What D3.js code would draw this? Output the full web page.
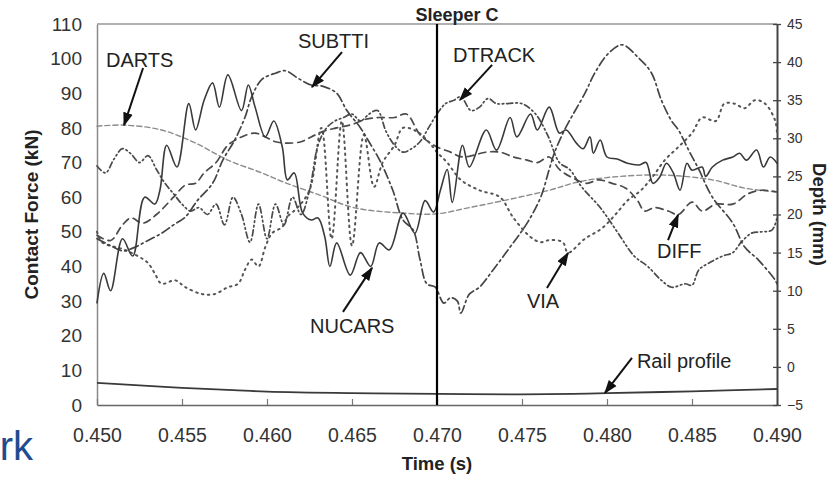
<!DOCTYPE html>
<html><head><meta charset="utf-8">
<script src="https://cdn.jsdelivr.net/npm/d3@7/dist/d3.min.js"></script>
<style>
html,body{margin:0;padding:0;background:#fff;}
svg{display:block;font-family:"Liberation Sans",Arial,sans-serif;}
</style></head>
<body>
<svg id="chart" width="837" height="477"></svg>
<script>
// ---------- data ----------
const timeTicks = [0.450,0.455,0.460,0.465,0.470,0.475,0.480,0.485,0.490];
const forceTicks = [0,10,20,30,40,50,60,70,80,90,100,110];
const depthTicks = [-5,0,5,10,15,20,25,30,35,40,45];
const sleeperTime = 0.470;

const NUCARS = [[0.4500,29.5],[0.4504,38],[0.4508,33],[0.4515,48],[0.4521,43],[0.4528,60],[0.4534,58],[0.4537,62],[0.4541,75],[0.4547,68.7],[0.4554,87],[0.4558,79.4],[0.4563,88],[0.4568,93],[0.4572,86],[0.4577,95.3],[0.4585,85],[0.4589,92.4],[0.4593,86],[0.4599,77.4],[0.4604,82],[0.4609,74.5],[0.4612,65],[0.4616,67],[0.4621,55.4],[0.4626,53.4],[0.4630,54],[0.4634,48.5],[0.4637,40],[0.4641,46.8],[0.4649,37.5],[0.4655,44],[0.4661,40],[0.4666,46.8],[0.4672,44.8],[0.4680,55.4],[0.4687,49.6],[0.4693,59],[0.4698,55.7],[0.4702,62],[0.4706,68],[0.4709,58.5],[0.4715,75],[0.4719,68.7],[0.4729,79.4],[0.4735,73.6],[0.4743,83],[0.4747,77.4],[0.4755,84],[0.4759,79.4],[0.4766,86],[0.4772,78.5],[0.4776,79.4],[0.4782,75.6],[0.4786,74],[0.4790,77.4],[0.4792,72.7],[0.4796,76.5],[0.4800,71.6],[0.4806,71],[0.4812,69.8],[0.4819,69.3],[0.4823,70],[0.4827,64],[0.4831,65.8],[0.4835,69.8],[0.4839,67],[0.4843,62],[0.4847,69.8],[0.4850,67.8],[0.4856,68.7],[0.4858,66],[0.4862,68.7],[0.4868,70.7],[0.4874,71.6],[0.4878,72.7],[0.4882,70.7],[0.4888,73.6],[0.4892,68.7],[0.4896,71.6],[0.4900,69.8]];

const DARTS = [[0.450,80.5],[0.4516,80.8],[0.4538,79.4],[0.4558,75.6],[0.4577,70.7],[0.4597,67],[0.4609,64.5],[0.4631,60.6],[0.4651,57],[0.468,55.4],[0.470,55.2],[0.4719,57],[0.4739,59],[0.4766,62],[0.4783,64.4],[0.4803,65.8],[0.4832,66.4],[0.4862,65],[0.4881,62.6],[0.490,61.5]];

const SUBTTI = [[0.450,48],[0.4508,46],[0.4515,44.5],[0.4522,45.5],[0.453,47.5],[0.4538,49.6],[0.4545,52],[0.4552,54.3],[0.4559,59],[0.4568,64],[0.4574,70.7],[0.4581,76.5],[0.4587,83],[0.4591,89],[0.4597,94],[0.4605,95.8],[0.4611,96.5],[0.4618,94.4],[0.4626,92.4],[0.4633,92],[0.4641,90],[0.4647,85],[0.4655,80],[0.466,76],[0.4667,70],[0.4674,62],[0.468,53.4],[0.4686,50.5],[0.469,42],[0.4694,35],[0.4699,34],[0.4704,29.4],[0.4708,31],[0.4712,30],[0.4714,26.5],[0.4719,32],[0.4725,34],[0.4733,39],[0.4743,45.6],[0.4753,52.5],[0.4761,60],[0.4766,68],[0.4769,72.7],[0.4775,79.4],[0.4787,90],[0.4793,96],[0.4801,101.6],[0.4809,104],[0.4818,100.5],[0.4826,96],[0.4832,88],[0.4838,82],[0.4842,79.4],[0.4848,73.6],[0.4854,68],[0.4862,60],[0.4874,52.5],[0.4881,45.6],[0.4889,41.9],[0.4899,36],[0.490,35]];

const DTRACK = [[0.450,69],[0.4505,67],[0.451,71],[0.4515,74],[0.452,72.5],[0.4525,70],[0.453,72],[0.4535,68],[0.454,64],[0.4545,61],[0.455,58],[0.4555,56],[0.456,57],[0.4565,55],[0.457,58],[0.4575,52],[0.458,60],[0.4585,55],[0.459,47],[0.4595,58],[0.460,48],[0.4605,58],[0.461,52],[0.4615,60],[0.462,55],[0.4625,62],[0.463,75],[0.4635,80],[0.464,82],[0.4645,83],[0.465,84],[0.4655,82],[0.466,84],[0.4665,85],[0.467,79],[0.4675,75],[0.468,73],[0.4685,74],[0.469,76],[0.4695,80],[0.470,84],[0.4705,87],[0.471,88],[0.4714,89],[0.472,85],[0.4725,86],[0.473,88.5],[0.4735,87],[0.474,87],[0.475,87],[0.4758,84],[0.4765,78],[0.4772,70],[0.4778,68],[0.4785,63],[0.4796,57],[0.4806,50],[0.4816,43],[0.4824,40],[0.4832,36],[0.4838,34],[0.4846,35],[0.485,34.6],[0.4854,39],[0.486,41],[0.4868,43],[0.4874,44],[0.4879,47],[0.4885,49.6],[0.4891,50],[0.4897,50.5],[0.490,54]];

const VIA = [[0.450,50],[0.4503,47],[0.4515,45],[0.4524,43],[0.453,41],[0.4534,38],[0.4538,35],[0.4546,36],[0.4552,34],[0.4562,32],[0.4569,32],[0.4577,34],[0.4583,35],[0.4587,39],[0.4591,42],[0.4595,40],[0.4599,45.6],[0.4603,49.6],[0.4609,51.4],[0.4612,54.3],[0.4618,57],[0.4625,62],[0.4632,80],[0.4638,48],[0.4644,82],[0.4650,46],[0.4657,78],[0.4663,63],[0.4668,70],[0.4675,75],[0.468,80],[0.4688,79],[0.4695,76],[0.470,73],[0.4706,70],[0.4714,65],[0.4725,62],[0.4737,60],[0.4745,54],[0.4755,48.5],[0.4761,47],[0.4766,47.6],[0.4774,47],[0.4777,44],[0.4787,48],[0.4797,51],[0.4805,55],[0.4812,59],[0.482,62],[0.4827,66],[0.4834,70.7],[0.4842,74.5],[0.485,78.5],[0.4856,83],[0.4864,82],[0.4869,87],[0.4875,87],[0.4881,85.7],[0.4887,88],[0.4893,87],[0.4899,82],[0.490,78.5]];

const DIFF = [[0.450,49],[0.4508,47.5],[0.4515,52],[0.452,54],[0.4527,52.5],[0.4535,55],[0.4545,60],[0.4552,63.5],[0.4558,64],[0.4563,67],[0.457,70],[0.4577,75],[0.4585,77.4],[0.4593,78.5],[0.4599,77.4],[0.4605,76],[0.4612,75.6],[0.462,76],[0.4626,77.4],[0.4633,79],[0.4641,80],[0.465,81],[0.4658,82.5],[0.4666,83],[0.4675,83],[0.4682,84],[0.469,78],[0.4695,76],[0.470,74.5],[0.4708,73],[0.4715,71.6],[0.4729,73],[0.4737,73],[0.4745,71.6],[0.4753,70.7],[0.4759,70],[0.4766,71.6],[0.4772,68],[0.4779,65.8],[0.4788,64],[0.4795,65],[0.4803,64],[0.4811,62.6],[0.4818,59],[0.4822,56],[0.4828,57],[0.4836,56],[0.4842,55],[0.485,58.6],[0.4856,56],[0.4864,58],[0.4874,58],[0.4883,61],[0.4891,62],[0.490,61.5]];

// rail profile, right axis (depth, mm)
const RAIL = [[0.450,-2.1],[0.452,-2.35],[0.455,-2.75],[0.458,-3.05],[0.460,-3.25],[0.465,-3.45],[0.470,-3.55],[0.475,-3.6],[0.478,-3.55],[0.480,-3.45],[0.485,-3.2],[0.490,-2.9]];

// annotation labels: text anchor (t, force) and arrow from -> to (t, force)
const labels = [
  {text:"DARTS",       t:0.45053, f:97.6, a:[0.45271,97.3,0.45159,80.8]},
  {text:"SUBTTI",      t:0.46182, f:103.1,a:[0.46441,101.9,0.46265,91.8]},
  {text:"DTRACK",      t:0.47094, f:99.0, a:[0.47324,98.2,0.47135,88.1]},
  {text:"NUCARS",      t:0.46253, f:20.8, a:[0.46447,26.9,0.46618,39.6]},
  {text:"VIA",         t:0.47529, f:28.0, a:[0.47647,33.8,0.47771,43.9]},
  {text:"DIFF",        t:0.48294, f:42.4, a:[0.48359,47.6,0.48418,54.9]},
  {text:"Rail profile",t:0.48176, f:10.7, a:[0.48147,13.6,0.47988,3.5]}
];

// ---------- drawing ----------
const svg = d3.select("#chart");
const L = 97, R = 777, T = 24, B = 405;
const x = d3.scaleLinear().domain([0.450,0.490]).range([L,R]);
const yL = d3.scaleLinear().domain([0,110]).range([B,T]);
const yR = d3.scaleLinear().domain([-5,45]).range([B,T]);

svg.append("defs").append("marker")
  .attr("id","arr").attr("viewBox","0 0 10 10").attr("refX",9).attr("refY",5)
  .attr("markerWidth",7).attr("markerHeight",7).attr("orient","auto")
  .append("path").attr("d","M0,1.5 L10,5 L0,8.5 z").attr("fill","#111");

// top frame line
svg.append("line").attr("x1",L).attr("x2",R).attr("y1",T).attr("y2",T)
  .attr("stroke","#b0b0b0").attr("stroke-width",2);

// left axis
const gL = svg.append("g").attr("transform",`translate(${L},0)`)
  .call(d3.axisLeft(yL).tickValues(forceTicks).tickSize(0).tickPadding(15));
gL.select(".domain").attr("stroke","#8a8a8a").attr("stroke-width",1.5);
gL.selectAll("text").attr("font-size",19).attr("fill","#333")
  .attr("font-family","'Liberation Sans',Arial,sans-serif");

// bottom axis
const gB = svg.append("g").attr("transform",`translate(0,${B})`)
  .call(d3.axisBottom(x).tickValues(timeTicks).tickFormat(d3.format(".3f"))
        .tickSizeInner(-6).tickSizeOuter(0).tickPadding(23));
gB.select(".domain").attr("stroke","#666").attr("stroke-width",1.5);
gB.selectAll(".tick line").attr("stroke","#777").attr("stroke-width",1.2);
gB.selectAll("text").attr("font-size",19.5).attr("fill","#333")
  .attr("font-family","'Liberation Sans',Arial,sans-serif");

// right axis
const gR = svg.append("g").attr("transform",`translate(${R},0)`)
  .call(d3.axisRight(yR).tickValues(depthTicks).tickSizeInner(4).tickSizeOuter(0).tickPadding(6));
gR.select(".domain").attr("stroke","#444").attr("stroke-width",2);
gR.selectAll(".tick line").attr("x1",-4).attr("stroke","#444").attr("stroke-width",1.3);
gR.selectAll("text").attr("font-size",14).attr("fill","#333")
  .attr("font-family","'Liberation Sans',Arial,sans-serif");

// series
const lineL = d3.line().x(d=>x(d[0])).y(d=>yL(d[1])).curve(d3.curveCatmullRom.alpha(0.5));
const lineR = d3.line().x(d=>x(d[0])).y(d=>yR(d[1])).curve(d3.curveCatmullRom.alpha(0.5));

const styles = [
  {data:DARTS,  stroke:"#8c8c8c", w:1.4, dash:"5,3"},
  {data:DIFF,   stroke:"#4a4a4a", w:1.7, dash:"7,5"},
  {data:VIA,    stroke:"#555",    w:2.0, dash:"1.5,4.5"},
  {data:DTRACK, stroke:"#4a4a4a", w:1.7, dash:"6,3,1.5,3,1.5,3"},
  {data:SUBTTI, stroke:"#444",    w:1.7, dash:"9,3.5,2,3.5"},
  {data:NUCARS, stroke:"#3a3a3a", w:1.6, dash:null}
];
styles.forEach(s=>{
  svg.append("path").datum(s.data).attr("d",lineL)
    .attr("fill","none").attr("stroke",s.stroke).attr("stroke-width",s.w)
    .attr("stroke-dasharray",s.dash).attr("stroke-linecap","round");
});
svg.append("path").datum(RAIL).attr("d",lineR)
  .attr("fill","none").attr("stroke","#3a3a3a").attr("stroke-width",1.8);

// sleeper line
svg.append("line").attr("x1",x(sleeperTime)).attr("x2",x(sleeperTime))
  .attr("y1",yL(110)).attr("y2",yL(0)).attr("stroke","#000").attr("stroke-width",2.2);

// annotations
labels.forEach(l=>{
  svg.append("text").attr("x",x(l.t)).attr("y",yL(l.f)).text(l.text)
    .attr("font-size",20).attr("fill","#222");
  svg.append("line").attr("x1",x(l.a[0])).attr("y1",yL(l.a[1]))
    .attr("x2",x(l.a[2])).attr("y2",yL(l.a[3]))
    .attr("stroke","#111").attr("stroke-width",2).attr("marker-end","url(#arr)");
});

// titles
svg.append("text").attr("x",x(sleeperTime)+20).attr("y",21).attr("text-anchor","middle")
  .attr("font-size",18).attr("font-weight","bold").attr("fill","#222").text("Sleeper C");
svg.append("text").attr("x",(L+R)/2).attr("y",470).attr("text-anchor","middle")
  .attr("font-size",18.5).attr("font-weight","bold").attr("fill","#222").text("Time (s)");
svg.append("text").attr("transform",`translate(38,${(T+B)/2}) rotate(-90)`).attr("text-anchor","middle")
  .attr("font-size",19).attr("font-weight","bold").attr("fill","#222").text("Contact Force (kN)");
svg.append("text").attr("transform",`translate(813,${(T+B)/2}) rotate(90)`).attr("text-anchor","middle")
  .attr("font-size",18.5).attr("font-weight","bold").attr("fill","#222").text("Depth (mm)");
svg.append("text").attr("x",33).attr("y",460).attr("text-anchor","end")
  .attr("font-size",40).attr("fill","#1f4b8f").text("rk");
</script>
</body></html>
